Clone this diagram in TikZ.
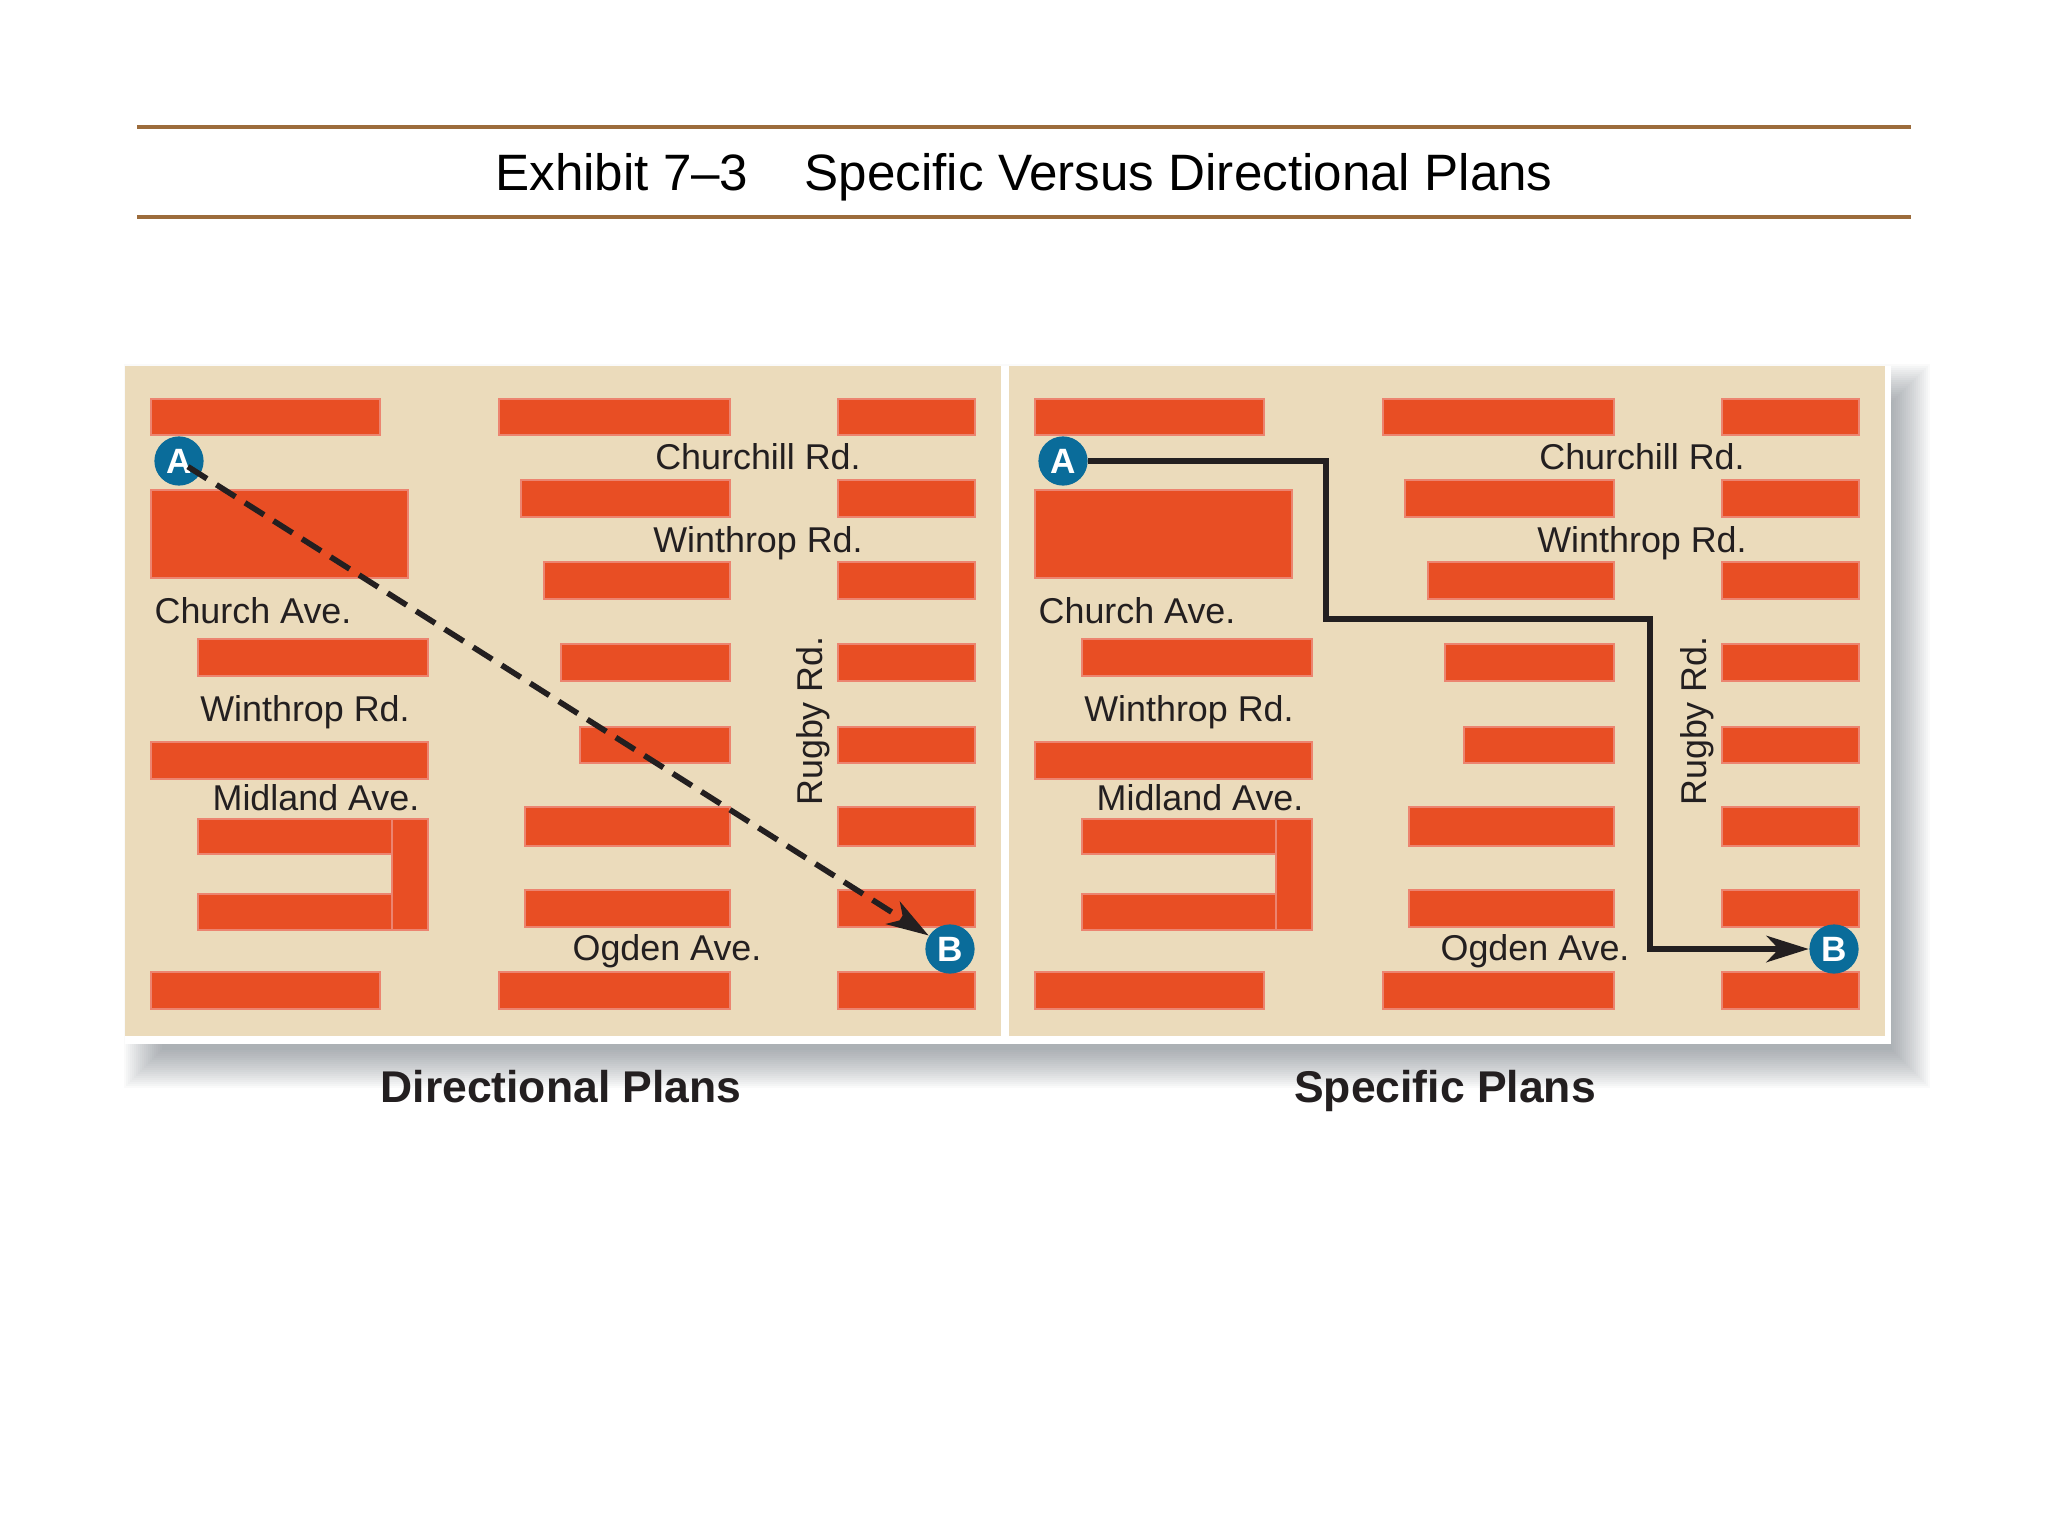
\documentclass[tikz,border=0pt]{standalone}
\usepackage{fontspec}
\setmainfont{Liberation Sans}
\usepackage{xcolor}
\usetikzlibrary{arrows.meta,positioning,calc}
\definecolor{rulebrown}{HTML}{9C6C3C}
\definecolor{tanground}{HTML}{EBDBBB}
\definecolor{blockred}{HTML}{E84E24}
\definecolor{blockedge}{HTML}{EC8470}
\definecolor{pinblue}{HTML}{0A6C9A}
\definecolor{shadowgray}{HTML}{3C4650}
\definecolor{inkdark}{HTML}{231F20}
\tikzset{
  block/.style={draw=blockedge,fill=blockred,line width=0.45pt},
  streetname/.style={anchor=base,inner sep=0pt,text=inkdark,font=\fontsize{10.2}{12}\selectfont},
  plancaption/.style={anchor=base,inner sep=0pt,text=inkdark,font=\fontsize{12.65}{15}\selectfont\bfseries},
  pin/.style={circle,fill=pinblue,minimum size=14pt,inner sep=0pt,text=white,font=\fontsize{10}{11}\selectfont\bfseries},
  route/.style={draw=inkdark,line width=1.6pt,-{Stealth[length=12pt,width=7.5pt,inset=3.5pt]}}
}
\begin{document}
\begin{tikzpicture}[x=0.01cm,y=-0.01cm]
    \useasboundingbox (0,0) rectangle (2048,1536);

    % Title between the rules
    \draw[rulebrown,line width=1pt] (137,127) -- (1911,127);
    \draw[rulebrown,line width=1pt] (137,217) -- (1911,217);
    \node[anchor=base,inner sep=0pt,font=\fontsize{14.55}{17}\selectfont] (title) at (1024,190) {Exhibit 7--3\hspace{1.1em}Specific Versus Directional Plans};

    % Soft shadow under the sheet
    \foreach \g in {0,...,19}
        \fill[shadowgray,opacity=0.026] ({124+2*\g},{364+2*\g}) rectangle ({1930-2*\g},{1088-2*\g});
    \fill[white] (125,366) rectangle (1891,1044);

    % The same street plan twice
    \foreach \side/\dx/\og in {d/0/667,s/8.835/651} {
    \begin{scope}[xshift=\dx cm]
    \fill[tanground] (125,366) rectangle (1001,1036);

    % Left column
    \draw[block] (151,399) rectangle (380,435);
    \draw[block] (151,490) rectangle (408,578);
    \draw[block] (198,639) rectangle (428,676);
    \draw[block] (151,742) rectangle (428,779);
    \draw[block] (198,819) rectangle (392,854);
    \draw[block] (198,894) rectangle (392,930);
    \draw[block] (392,819) rectangle (428,930);
    \draw[block] (151,972) rectangle (380,1009);

    % Middle and right columns
    \foreach \xl/\yt/\yb in {499/399/435,521/480/517,544/562/599,561/644/681,580/727/763,525/807/846,525/890/927,499/972/1009} {
        \draw[block] (\xl,\yt) rectangle (730,\yb);
        \draw[block] (838,\yt) rectangle (975,\yb);
    }

    % Street names
    \node[streetname] (churchill\side) at (758,469) {Churchill Rd.};
    \node[streetname] (winthropa\side) at (758,552) {Winthrop Rd.};
    \node[streetname] (church\side) at (253,623) {Church Ave.};
    \node[streetname] (winthropb\side) at (305,721) {Winthrop Rd.};
    \node[streetname] (midland\side) at (316,810) {Midland Ave.};
    \node[streetname] (ogden\side) at (\og,960) {Ogden Ave.};
    \node[streetname,rotate=90] (rugby\side) at (822,721) {Rugby Rd.};

    \node[pin] (A\side) at (179,461) {A};
    \node[pin] (B\side) at (950,949) {B};
    \end{scope}
    }

    % Directional route
    \draw[route,dash pattern=on 6.4pt off 3.2pt,shorten <=3pt] (Ad.center) -- (Bd);

    % Specific route
    \coordinate (turna) at (1326,619);
    \coordinate (turnb) at (1650,619);
    \draw[route] (As) -| (turna) -- (turnb) |- (Bs);

    % Captions
    \node[plancaption] (directional) at (561,1102) {Directional Plans};
    \node[plancaption] (specific) at (1445,1102) {Specific Plans};
\end{tikzpicture}
\end{document}
